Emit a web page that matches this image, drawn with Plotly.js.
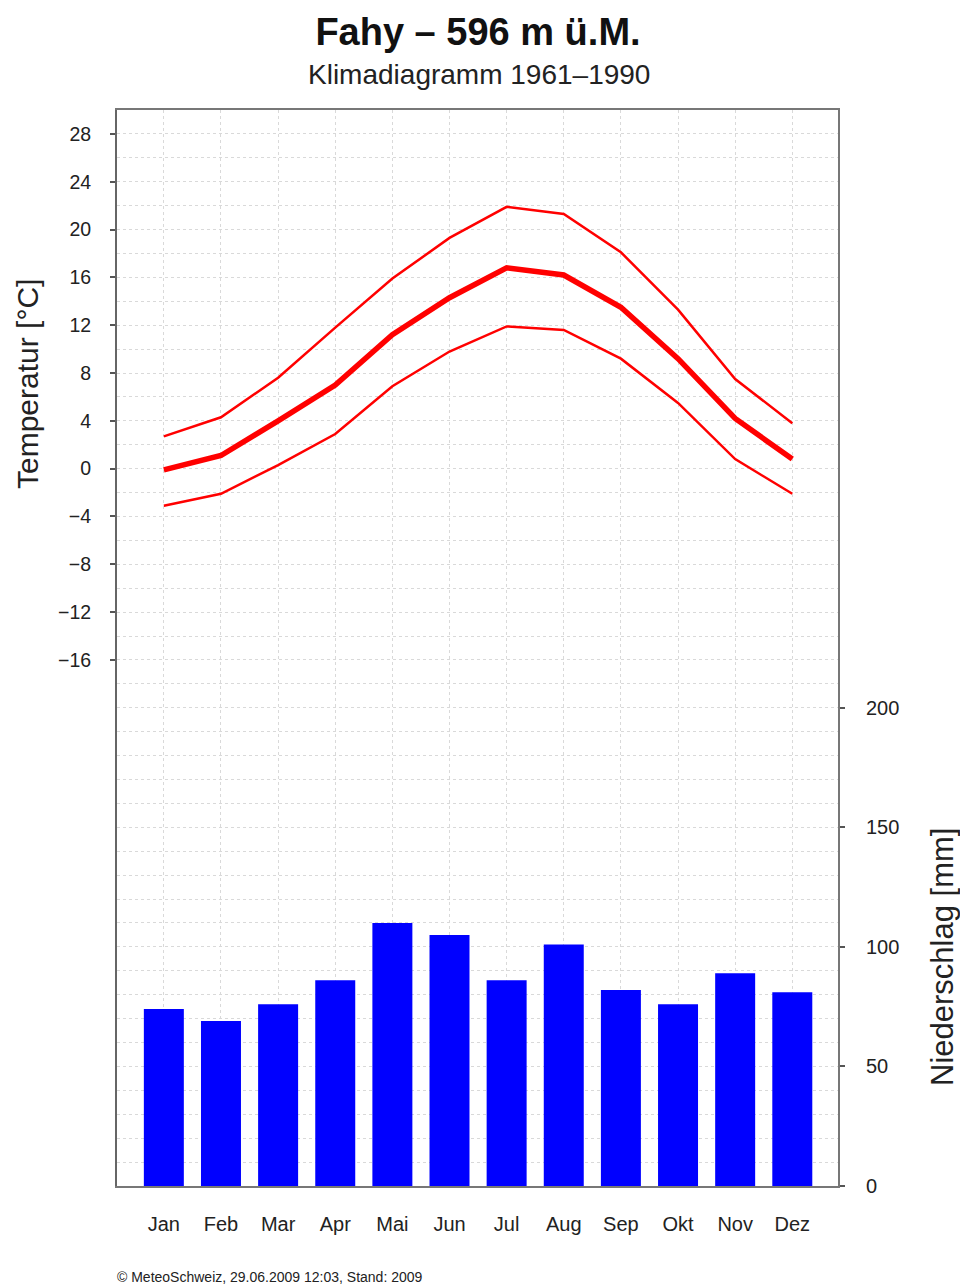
<!DOCTYPE html>
<html>
<head>
<meta charset="utf-8">
<script src="https://cdn.plot.ly/plotly-3.0.1.min.js"></script>
<style>html,body{margin:0;padding:0;background:#fff;}#chart{width:960px;height:1285px;}</style>
</head>
<body>
<div id="chart"></div>
<script>
const months = ["Jan","Feb","Mar","Apr","Mai","Jun","Jul","Aug","Sep","Okt","Nov","Dez"];
const precipitation = [74, 69, 76, 86, 110, 105, 86, 101, 82, 76, 89, 81];
const tempMean = [-0.1, 1.1, 4.0, 7.0, 11.2, 14.3, 16.8, 16.2, 13.5, 9.2, 4.2, 0.8];
const tempMax = [2.7, 4.3, 7.6, 11.8, 15.9, 19.3, 21.9, 21.3, 18.1, 13.3, 7.5, 3.8];
const tempMin = [-3.1, -2.1, 0.3, 2.9, 6.9, 9.8, 11.9, 11.6, 9.2, 5.5, 0.8, -2.1];
const tempTicks = [-16, -12, -8, -4, 0, 4, 8, 12, 16, 20, 24, 28];
const precipTicks = [0, 50, 100, 150, 200];

const FONT = '"Liberation Sans", Arial, sans-serif';
const gridCol = '#d9d9d9';

const traces = [
  {type:'bar', x: months, y: precipitation, yaxis:'y2', marker:{color:'#0000ff', line:{width:0}}, width:0.7, hoverinfo:'y'},
  {type:'scatter', mode:'lines', x: months, y: tempMax, line:{color:'#ff0000', width:2.5}},
  {type:'scatter', mode:'lines', x: months, y: tempMin, line:{color:'#ff0000', width:2.5}},
  {type:'scatter', mode:'lines', x: months, y: tempMean, line:{color:'#ff0000', width:5.5}}
];

const layout = {
  width:960, height:1285,
  margin:{l:117, r:122, t:110, b:99},
  paper_bgcolor:'#fff', plot_bgcolor:'#fff',
  showlegend:false,
  font:{family:FONT, color:'#222', size:19},
  title:{text:'Fahy – 596 m ü.M.', font:{family:FONT, size:38, color:'#111', weight:'bold'}, x:478/960, xanchor:'center', xref:'container', y:1-32/1285, yanchor:'middle', yref:'container'},
  xaxis:{type:'category', range:[-0.82, 11.8], showgrid:true, gridcolor:gridCol, griddash:'dot', gridwidth:1,
    showline:true, linecolor:'#777', linewidth:2, mirror:true, ticks:'', zeroline:false,
    ticklabelstandoff:19, tickfont:{size:20, family:FONT, color:'#222'}},
  yaxis:{range:[-60, 30], tickvals:tempTicks, ticks:'outside', ticklen:5, tickwidth:2, tickcolor:'#555',
    showline:true, linecolor:'#666', linewidth:2, zeroline:false,
    showgrid:true, gridcolor:gridCol, griddash:'dot', gridwidth:1,
    minor:{dtick:2, tick0:0, showgrid:true, gridcolor:gridCol, griddash:'dot', gridwidth:1, ticks:''},
    ticklabelstandoff:15, tickfont:{size:19.5, family:FONT, color:'#222'}},
  yaxis2:{range:[0, 450], overlaying:'y', side:'right', tickvals:precipTicks, ticks:'outside', ticklen:5, tickwidth:2, tickcolor:'#555',
    showline:true, linecolor:'#777', linewidth:2, zeroline:false, showgrid:false,
    ticklabelstandoff:17, tickfont:{size:20, family:FONT, color:'#222'}},
  bargap:0.3,
  annotations:[
    {text:'Klimadiagramm 1961–1990', xref:'paper', yref:'paper', x:(479-117)/721, y:1+(110-75)/1076, xanchor:'center', yanchor:'middle', showarrow:false, font:{size:28, family:FONT, color:'#222'}},
    {text:'Temperatur [°C]', xref:'paper', yref:'paper', x:(27-117)/721, y:(1186-384)/1076, xanchor:'center', yanchor:'middle', textangle:-90, showarrow:false, font:{size:30, family:FONT, color:'#222'}},
    {text:'Niederschlag [mm]', xref:'paper', yref:'paper', x:(942-117)/721, y:(1186-957)/1076, xanchor:'center', yanchor:'middle', textangle:-90, showarrow:false, font:{size:31, family:FONT, color:'#222'}},
    {text:'© MeteoSchweiz, 29.06.2009 12:03, Stand: 2009', xref:'paper', yref:'paper', x:(115-117)/721, y:-(1277-1186)/1076, xanchor:'left', yanchor:'middle', showarrow:false, font:{size:14, family:FONT, color:'#222'}}
  ]
};

Plotly.newPlot('chart', traces, layout, {staticPlot:true, displayModeBar:false});
</script>
</body>
</html>
